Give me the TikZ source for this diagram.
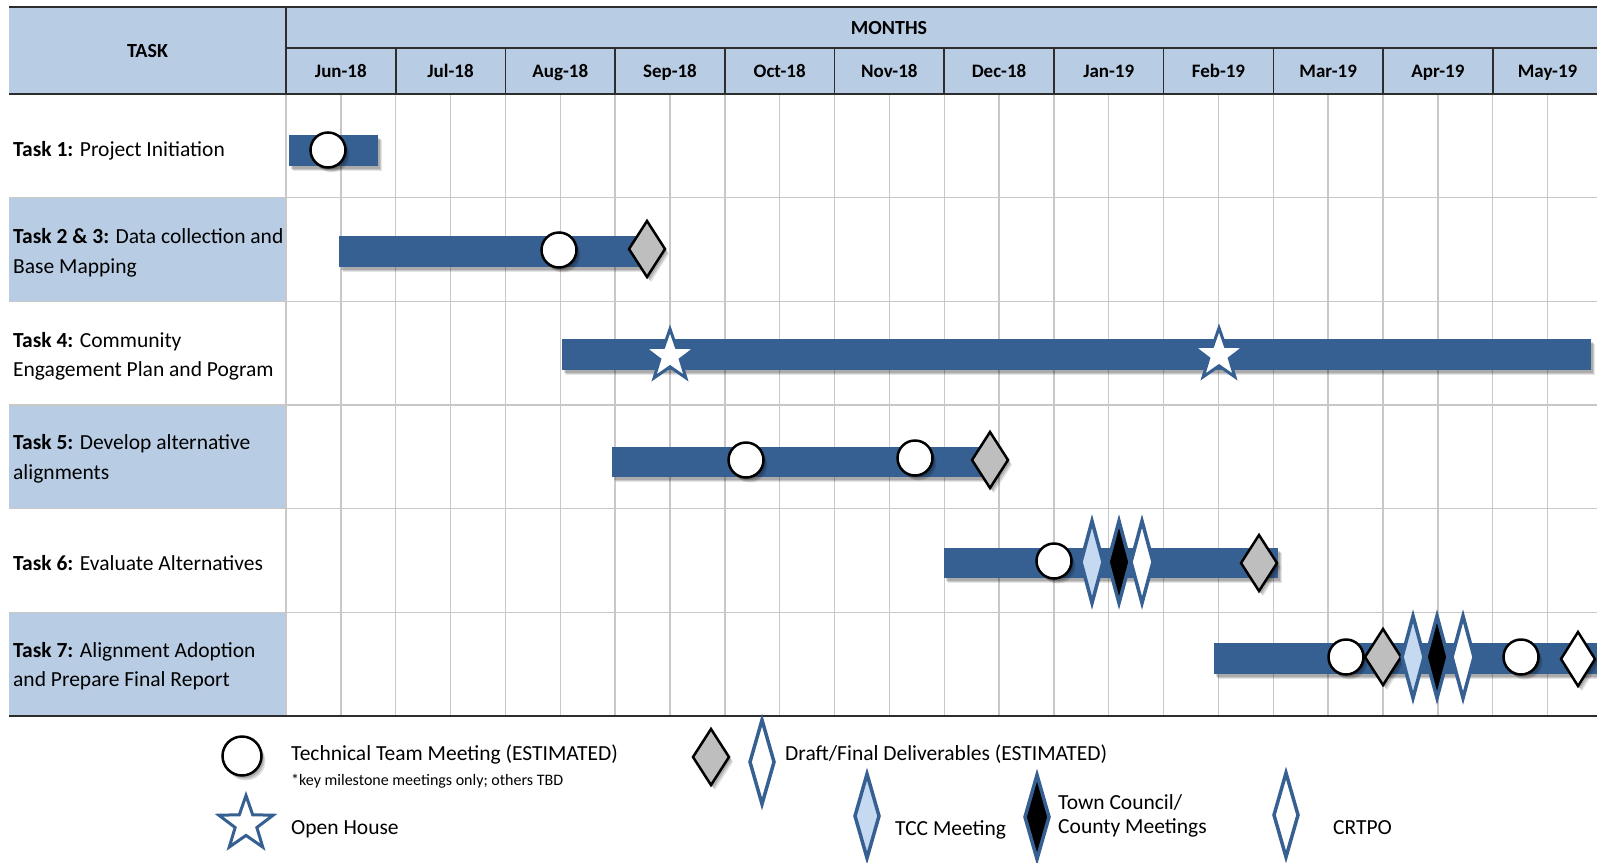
\documentclass[tikz,border=0pt]{standalone}
\usepackage{fontspec}
\setmainfont{Carlito}
\usetikzlibrary{shapes.geometric,shadows}
\definecolor{hdr}{RGB}{184,204,228}
\definecolor{barc}{RGB}{55,96,146}
\definecolor{gridc}{RGB}{200,200,200}
\definecolor{lblue}{RGB}{197,217,241}
\definecolor{dgray}{RGB}{190,190,190}
\definecolor{hline}{RGB}{45,45,45}
\newcommand\mydia[5]{\path[#5] (#1,#2-#4) -- (#1+#3,#2) -- (#1,#2+#4) -- (#1-#3,#2) -- cycle;}
\begin{document}
\begin{tikzpicture}[x=1pt,y=-1pt,
  shd/.style={
    drop shadow={opacity=0.10, shadow xshift=4pt, shadow yshift=-5pt, fill=black},
    drop shadow={opacity=0.12, shadow xshift=3pt, shadow yshift=-4pt, fill=black},
    drop shadow={opacity=0.15, shadow xshift=2pt, shadow yshift=-2.5pt, fill=black}},
  barstyle/.style={fill=barc, shd},
  gridline/.style={draw=gridc, line width=1.4pt},
  hdrline/.style={draw=hline, line width=1.6pt},
  mcircle/.style={circle, draw=black, line width=2.5pt, fill=white, minimum size=35pt, inner sep=0pt, shd},
  graydia/.style={draw=black, line width=2.5pt, line join=miter, fill=dgray, shd},
  whitedia/.style={draw=black, line width=2.5pt, line join=miter, fill=white, shd},
  tccdia/.style={draw=barc, line width=3.5pt, line join=miter, fill=lblue},
  towndia/.style={draw=barc, line width=3.5pt, line join=miter, fill=black},
  crtpodia/.style={draw=barc, line width=3.5pt, line join=miter, fill=white},
  mstar/.style={star, star points=5, star point ratio=2.5, draw=barc, line width=3pt, fill=white, inner sep=0pt},
  tasktxt/.style={anchor=west, align=left, font=\fontsize{21.5}{29.5}\selectfont, inner sep=0pt},
  hdrtxt/.style={font=\bfseries\fontsize{20}{24}\selectfont, inner sep=0pt},
  montxt/.style={anchor=base, font=\bfseries\fontsize{19}{23}\selectfont, inner sep=0pt},
  legtxt/.style={anchor=base west, font=\fontsize{21.5}{25}\selectfont, inner sep=0pt},
  smalltxt/.style={anchor=base west, font=\fontsize{16}{19}\selectfont, inner sep=0pt}
]
\useasboundingbox (0,0) rectangle (1597,862);
\fill[white] (0,0) rectangle (1597,862);
% header
\fill[hdr] (9,7) rectangle (1597,94);
% task column fills
\fill[hdr] (9,197.7) rectangle (286,301.3);
\fill[hdr] (9,405) rectangle (286,508.7);
\fill[hdr] (9,612.3) rectangle (286,716);
% grid
\foreach \k in {0,...,23} \draw[gridline] (286+\k*54.85,94) -- (286+\k*54.85,716);
\foreach \r in {1,...,5} \draw[gridline] (9,94+\r*103.67) -- (1597,94+\r*103.67);
% header lines
\draw[hdrline] (9,7) -- (1597,7);
\draw[hdrline] (286,7) -- (286,94);
\draw[hdrline] (286,48) -- (1597,48);
\foreach \m in {1,...,11} \draw[hdrline] (286+\m*109.7,48) -- (286+\m*109.7,94);
\draw[hdrline, line width=2pt] (9,94) -- (1597,94);
\draw[hdrline, line width=2pt] (9,716) -- (1597,716);
% header texts
\node[hdrtxt] (task) at (147.5,51) {TASK};
\node[hdrtxt] (months) at (889,28) {MONTHS};
\foreach \lab [count=\i from 0] in {Jun-18,Jul-18,Aug-18,Sep-18,Oct-18,Nov-18,Dec-18,Jan-19,Feb-19,Mar-19,Apr-19,May-19}
  \node[montxt] (m\i) at (286+\i*109.7+54.85,77.5) {\lab};
% task texts
\node[tasktxt] (t1) at (13,151) {\textbf{Task 1:} Project Initiation};
\node[tasktxt] (t2) at (13,253) {\textbf{Task 2 \& 3:} Data collection and\\Base Mapping};
\node[tasktxt] (t3) at (13,356.5) {\textbf{Task 4:} Community\\Engagement Plan and Pogram};
\node[tasktxt] (t4) at (13,459) {\textbf{Task 5:} Develop alternative\\alignments};
\node[tasktxt] (t5) at (13,563) {\textbf{Task 6:} Evaluate Alternatives};
\node[tasktxt] (t6) at (13,666) {\textbf{Task 7:} Alignment Adoption\\and Prepare Final Report};
% bars
\path[barstyle] (289,135) rectangle (378,166);
\path[barstyle] (339,236) rectangle (645,267);
\path[barstyle] (562,339) rectangle (1591,370);
\path[barstyle] (612,447) rectangle (988,477);
\path[barstyle] (944,548) rectangle (1278,578);
\path[barstyle] (1214,643) rectangle (1610,674);
% row 1
\node[mcircle] (c1) at (328,150) {};
% row 2
\node[mcircle] (c2) at (559,250) {};
\mydia{647}{249}{18}{28}{graydia}
% row 3
\node[mstar, minimum size=54pt] (s1) at (670,356) {};
\node[mstar, minimum size=54pt] (s2) at (1219,355) {};
% row 4
\node[mcircle] (c3) at (746,460) {};
\node[mcircle] (c4) at (915,458) {};
\mydia{990}{460}{18}{28}{graydia}
% row 5
\node[mcircle] (c5) at (1054,561) {};
\mydia{1092}{562}{11}{41}{tccdia}
\mydia{1119}{562}{11}{41}{towndia}
\mydia{1142}{562}{11}{41}{crtpodia}
\mydia{1259}{563}{18}{28}{graydia}
% row 6
\node[mcircle] (c6) at (1346,657) {};
\mydia{1383}{657}{18}{28}{graydia}
\mydia{1413}{657}{11}{41}{tccdia}
\mydia{1437}{657}{11}{41}{towndia}
\mydia{1463}{657}{11}{41}{crtpodia}
\node[mcircle] (c7) at (1521,657) {};
\mydia{1578}{659}{17}{27}{whitedia}
% legend
\node[mcircle, minimum size=39pt] (lc) at (242,756) {};
\node[legtxt] (l1) at (291,760) {Technical Team Meeting (ESTIMATED)};
\node[smalltxt] (l2) at (291,785) {*key milestone meetings only; others TBD};
\node[mstar, minimum size=57pt] (ls) at (246,824) {};
\node[legtxt] (l3) at (291,834) {Open House};
\mydia{711}{757}{18}{28}{graydia}
\mydia{762}{762}{12}{42}{crtpodia}
\node[legtxt] (l4) at (785,760) {Draft/Final Deliverables (ESTIMATED)};
\mydia{867}{816}{12}{42}{tccdia}
\node[legtxt] (l5) at (895,835) {TCC Meeting};
\mydia{1037}{817}{12}{42}{towndia}
\node[legtxt] (l6) at (1058,809) {Town Council/};
\node[legtxt] (l7) at (1058,833) {County Meetings};
\mydia{1286}{815}{12}{42}{crtpodia}
\node[legtxt] (l8) at (1333,834) {CRTPO};
\end{tikzpicture}
\end{document}
